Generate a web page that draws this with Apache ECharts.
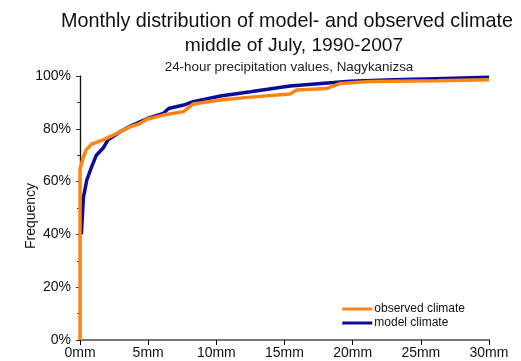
<!DOCTYPE html>
<html>
<head>
<meta charset="utf-8">
<script src="https://cdn.jsdelivr.net/npm/echarts@6/dist/echarts.min.js"></script>
<style>
  html, body { margin: 0; padding: 0; background: #fff; }
  #chart { width: 521px; height: 361px; }
</style>
</head>
<body>
<div id="chart"></div>
<script>
// Cumulative frequency of daily precipitation (mm, %)
const xTicks = ['0mm', '5mm', '10mm', '15mm', '20mm', '25mm', '30mm'];

const observedMm = [0, 0, 0.1, 0.25, 0.45, 0.85, 1.7, 2.4, 2.93, 3.7, 4.4, 4.9, 6.1, 7.6, 8.3, 10.3, 12.5, 15.4, 15.9, 18.1, 19.1, 21.3, 23, 26.2, 30];
const observedPct = [0, 65, 66.5, 69.4, 72, 74.2, 75.8, 77.5, 78.9, 80.8, 82, 83.6, 85.2, 86.5, 89.4, 90.9, 92, 93.2, 94.7, 95.3, 97.2, 97.9, 98, 98.2, 98.6];

const modelMm = [0.1, 0.25, 0.5, 0.85, 1.2, 1.7, 2.05, 2.4, 2.93, 3.7, 4.9, 6.1, 6.5, 7.6, 8.3, 10.3, 12.5, 15.4, 18.6, 19.8, 23, 26, 30];
const modelPct = [40, 54, 60.6, 65.6, 70, 72.7, 75.8, 77, 78.9, 81, 83.8, 85.8, 87.7, 89, 90.3, 92.4, 94, 96.2, 97.5, 98, 98.6, 99, 99.5];

const pairs = (xs, ys) => xs.map((x, i) => [x, ys[i]]);

const FONT = '"Liberation Sans", Arial, sans-serif';
const ORANGE = '#FF8412';
const NAVY = '#0C0C9C';

const chart = echarts.init(document.getElementById('chart'), null, { renderer: 'canvas' });

chart.setOption({
  animation: false,
  backgroundColor: '#fff',
  title: [
    {
      text: 'Monthly distribution of model- and observed climate',
      left: 282, top: 7, textAlign: 'center',
      textStyle: { fontFamily: FONT, fontSize: 19.8, fontWeight: 'normal', color: '#111' }
    },
    {
      text: 'middle of July, 1990-2007',
      left: 289, top: 31, textAlign: 'center',
      textStyle: { fontFamily: FONT, fontSize: 19.2, fontWeight: 'normal', color: '#111' }
    },
    {
      text: '24-hour precipitation values, Nagykanizsa',
      left: 284, top: 56, textAlign: 'center',
      textStyle: { fontFamily: FONT, fontSize: 13.4, fontWeight: 'normal', color: '#222' }
    }
  ],
  legend: {
    right: 51, top: 298, orient: 'vertical', itemGap: 2,
    itemWidth: 30, itemHeight: 12,
    icon: 'path://M0,4L30,4L30,7L0,7Z',
    textStyle: { fontFamily: FONT, fontSize: 12, color: '#111', padding: [0, 0, 0, -3] },
    data: ['observed climate', 'model climate']
  },
  grid: { left: 80, right: 32, top: 76, bottom: 21, containLabel: false },
  xAxis: [
    {
      type: 'value', min: 0, max: 30, interval: 5,
      axisLine: { show: true, lineStyle: { color: '#000', width: 1.2 } },
      axisTick: { show: true, length: 5, lineStyle: { color: '#000' } },
      axisLabel: {
        margin: 6, fontFamily: FONT, fontSize: 14, color: '#111',
        formatter: v => xTicks[v / 5]
      },
      splitLine: { show: false }
    },
    {
      type: 'value', position: 'top', min: 0, max: 30,
      axisLine: { show: true, lineStyle: { color: '#777', width: 2 } },
      axisTick: { show: false }, axisLabel: { show: false }, splitLine: { show: false }
    }
  ],
  yAxis: [
    {
      type: 'value', min: 0, max: 100, interval: 20,
      name: 'Frequency', nameLocation: 'middle', nameGap: 42, nameRotate: 90,
      nameMoveOverlap: false,
      nameTextStyle: { fontFamily: FONT, fontSize: 14, color: '#111', padding: [0, 16, 0, 0] },
      axisLine: { show: true, lineStyle: { color: '#555', width: 1.2 } },
      axisTick: { show: true, length: 4, lineStyle: { color: '#333' } },
      minorTick: { show: true, splitNumber: 2, length: 3, lineStyle: { color: '#333' } },
      axisLabel: { margin: 9, fontFamily: FONT, fontSize: 14, color: '#111', formatter: '{value}%' },
      splitLine: { show: false }
    },
    {
      type: 'value', position: 'right', min: 0, max: 100,
      axisLine: { show: true, lineStyle: { color: '#111', width: 1.2 } },
      axisTick: { show: false }, axisLabel: { show: false }, splitLine: { show: false }
    }
  ],
  series: [
    {
      name: 'model climate', type: 'line', data: pairs(modelMm, modelPct),
      showSymbol: false, symbol: 'none', z: 2,
      itemStyle: { color: NAVY },
      lineStyle: { color: NAVY, width: 3.5 }
    },
    {
      name: 'observed climate', type: 'line', data: pairs(observedMm, observedPct),
      showSymbol: false, symbol: 'none', z: 3,
      itemStyle: { color: ORANGE },
      lineStyle: { color: ORANGE, width: 3.5 }
    }
  ]
});
</script>
</body>
</html>
